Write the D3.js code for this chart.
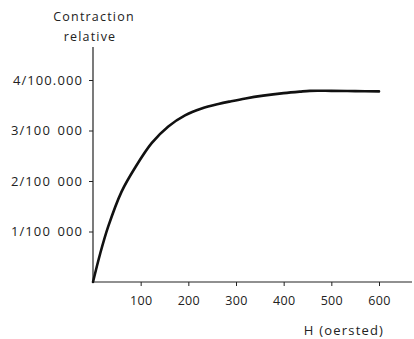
<!DOCTYPE html>
<html><head><meta charset="utf-8">
<script src="https://cdn.jsdelivr.net/npm/d3@7"></script>
<style>
html,body{margin:0;padding:0;background:#fff;}
svg text{font-family:"Open Sans",sans-serif;fill:#222;}
</style></head>
<body>
<svg id="c" width="414" height="339"></svg>
<script>
const fieldH = [0, 15, 32, 60, 88, 123, 158, 193, 228, 263, 290, 320, 357, 400, 434, 455, 500, 550, 600];
const contraction = [0, 0.56, 1.10, 1.79, 2.26, 2.75, 3.08, 3.30, 3.435, 3.525, 3.58, 3.635, 3.69, 3.74, 3.77, 3.785, 3.785, 3.78, 3.775];
const xTicks = [100, 200, 300, 400, 500, 600];
const yTicks = [1, 2, 3, 4];
const yTickLabels = ["1/100 000", "2/100 000", "3/100 000", "4/100.000"];
const yTitle = ["Contraction", "relative"];
const xTitle = "H (oersted)";

const svg = d3.select("#c");
const x = d3.scaleLinear().domain([0, 600]).range([93, 379]);
const y = d3.scaleLinear().domain([0, 4]).range([282, 80]);

svg.append("line").attr("x1", x(0)).attr("x2", 412).attr("y1", y(0)).attr("y2", y(0))
  .attr("stroke", "#222").attr("stroke-width", 1.2);
svg.append("line").attr("x1", x(0)).attr("x2", x(0)).attr("y1", y(0)).attr("y2", 47)
  .attr("stroke", "#222").attr("stroke-width", 1.2);

const xAxis = d3.axisBottom(x).tickValues(xTicks).tickSize(4).tickPadding(10);
const gx = svg.append("g").attr("transform", `translate(0,${y(0)})`).call(xAxis);
gx.select(".domain").remove();
gx.selectAll("line").attr("stroke", "#222");
gx.selectAll("text").attr("font-size", 12.5).attr("fill", "#222").attr("letter-spacing", "0.3");

const yAxis = d3.axisLeft(y).tickValues(yTicks).tickSize(4).tickPadding(6)
  .tickFormat((d, i) => yTickLabels[i]);
const gy = svg.append("g").attr("transform", `translate(${x(0)},0)`).call(yAxis);
gy.select(".domain").remove();
gy.selectAll("line").attr("stroke", "#222");
gy.selectAll("text").attr("font-size", 13).attr("fill", "#222")
  .attr("letter-spacing", "1.1").attr("word-spacing", "2");

svg.selectAll(".yt").data(yTitle).enter().append("text")
  .attr("x", (d, i) => i === 0 ? 94 : 90).attr("y", (d, i) => 21 + i * 20)
  .attr("text-anchor", "middle").attr("font-size", 12.5).attr("letter-spacing", "1.2")
  .text(d => d);
svg.append("text").attr("x", 344).attr("y", 335).attr("text-anchor", "middle")
  .attr("font-size", 13).attr("letter-spacing", "1.2").text(xTitle);

const line = d3.line().x((d, i) => x(fieldH[i])).y(d => y(d)).curve(d3.curveCatmullRom.alpha(0.5));
svg.append("path").datum(contraction).attr("d", line)
  .attr("fill", "none").attr("stroke", "#111").attr("stroke-width", 2.6)
  .attr("stroke-linecap", "round");
</script>
</body></html>
